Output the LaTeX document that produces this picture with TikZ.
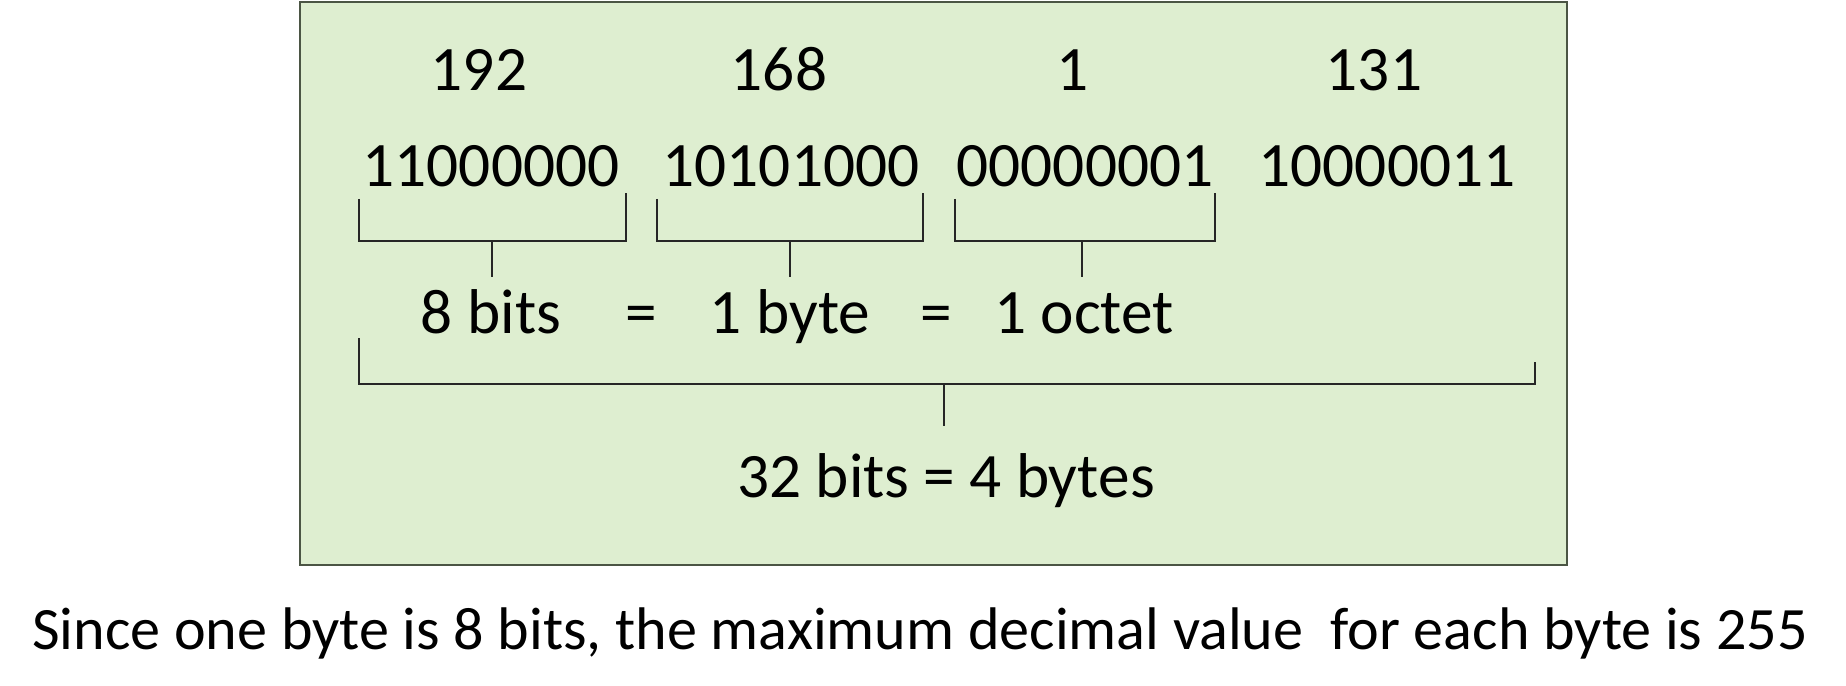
\documentclass[tikz,border=0pt]{standalone}
\usepackage{fontspec}
\setmainfont{Carlito}
\usepackage{tikz}

\definecolor{boxgreen}{HTML}{DEEED0}
\definecolor{boxline}{HTML}{4B5544}

\tikzset{
    num/.style={font=\fontsize{18}{20}\selectfont, inner sep=0pt, anchor=base},
    brk/.style={draw=black!85, line width=0.45pt},
}

\begin{document}
\begin{tikzpicture}[x=0.01cm, y=-0.01cm]
    \useasboundingbox (0,0) rectangle (1846,685);
    \path[fill=boxgreen, draw=boxline, line width=0.8pt] (300,2) rectangle (1567,565);

    % decimal values
    \node[num] (dec1) at (479,91) {192};
    \node[num] (dec2) at (779,91) {168};
    \node[num] (dec3) at (1073,91) {1};
    \node[num] (dec4) at (1374,91) {131};

    % binary values
    \node[num] (bin1) at (491,186) {11000000};
    \node[num] (bin2) at (791,186) {10101000};
    \node[num] (bin3) at (1085,186) {00000001};
    \node[num] (bin4) at (1387,186) {10000011};

    % small brackets
    \path[brk] (359,199) -- (359,241) -- (626,241) -- (626,193);
    \path[brk] (657,199) -- (657,241) -- (923,241) -- (923,193);
    \path[brk] (955,199) -- (955,241) -- (1215,241) -- (1215,193);
    \coordinate (stem1) at (492,241);
    \coordinate (stem2) at (790,241);
    \coordinate (stem3) at (1082,241);
    \coordinate (stem1e) at (492,277);
    \coordinate (stem2e) at (790,277);
    \coordinate (stem3e) at (1082,277);
    \path[brk] (stem1) -- (stem1e);
    \path[brk] (stem2) -- (stem2e);
    \path[brk] (stem3) -- (stem3e);

    \node[num] (bits) at (491,333) {8 bits};
    \node[num] (eqa) at (641,333) {=};
    \node[num] (byte) at (790,333) {1 byte};
    \node[num] (eqb) at (936,333) {=};
    \node[num] (octet) at (1084,333) {1 octet};

    % large bracket
    \path[brk] (359,338) -- (359,384) -- (1535,384) -- (1535,362);
    \coordinate (stem4) at (944,384);
    \coordinate (stem4e) at (944,426);
    \path[brk] (stem4) -- (stem4e);

    \node[num] (total) at (946,497) {32 bits = 4 bytes};

    \node[num, font=\fontsize{17.1}{20}\selectfont] (note) at (920,649) {Since one byte is 8 bits, the maximum decimal value\ \ for each byte is 255};

    \end{tikzpicture}
\end{document}
